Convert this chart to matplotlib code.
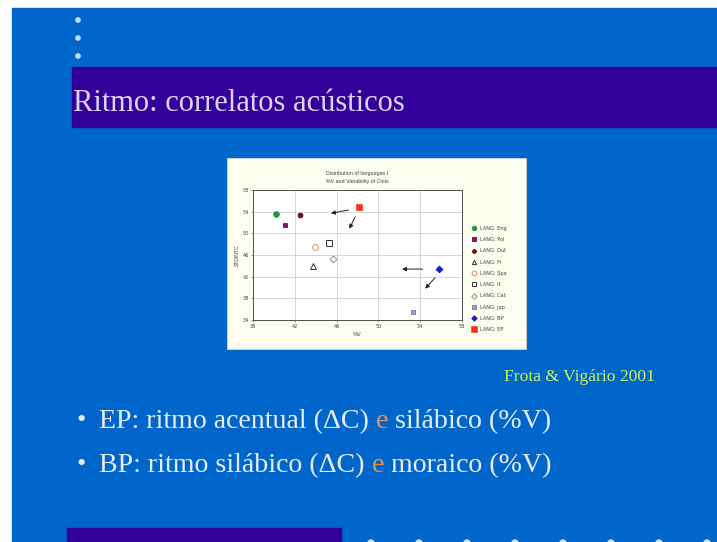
import matplotlib
matplotlib.use('Agg')
import matplotlib.pyplot as plt
from matplotlib.patches import Rectangle, Circle

W, H = 717, 542

# slide texts
slide_title = 'Ritmo: correlatos acústicos'
source_note = 'Frota & Vigário 2001'
bullet_lines = [
    ('EP: ritmo acentual (ΔC) ', 'e', ' silábico (%V)'),
    ('BP: ritmo silábico (ΔC) ', 'e', ' moraico (%V)'),
]

# chart data
chart_title = ['Distribution of languages I', '%V and Variability of Cints']
langs = ['Eng', 'Pol', 'Dut', 'Fr', 'Spa', 'It', 'Cat', 'Jap', 'BP', 'EP']
pct_v = [40.2, 41.1, 42.5, 43.7, 43.9, 45.3, 45.7, 53.3, 55.8, 48.1]
stdintc = [53.6, 51.6, 53.4, 44.0, 47.5, 48.3, 45.3, 35.5, 43.5, 54.8]
x_ticks = [38, 42, 46, 50, 54, 58]
y_ticks = [34, 38, 42, 46, 50, 54, 58]

# arrows drawn on the chart: (x0, y0) -> (x1, y1)
arrow_from = [(47.4, 54.4), (47.9, 53.5), (54.5, 43.4), (55.6, 42.2)]
arrow_to = [(45.2, 53.6), (47.1, 50.4), (52.0, 43.4), (54.3, 39.4)]

# marker, face, edge, size
styles = {
    'Eng': ('o', '#1a9a3a', '#1a9a3a', 4),
    'Pol': ('s', '#7a1a6a', '#7a1a6a', 3.2),
    'Dut': ('o', '#6a1020', '#6a1020', 3.4),
    'Fr': ('^', 'none', '#303030', 3.8),
    'Spa': ('o', 'none', '#e0906a', 4.2),
    'It': ('s', 'none', '#303030', 3.8),
    'Cat': ('D', 'none', '#909090', 3.4),
    'Jap': ('s', '#a0a0d0', '#8080b0', 3.2),
    'BP': ('D', '#1020c0', '#1020c0', 3.4),
    'EP': ('s', '#f03020', '#f06040', 4.6),
}

BLUE = '#0066cc'
PURPLE = '#330099'
SERIF = ['Liberation Serif', 'DejaVu Serif']
SANS = ['Liberation Sans', 'DejaVu Sans']

fig = plt.figure(figsize=(W / 100, H / 100), dpi=100)
fig.patch.set_facecolor('white')

bg = fig.add_axes([0, 0, 1, 1])
bg.set_xlim(0, W)
bg.set_ylim(H, 0)
bg.axis('off')

# slide background, title band, footer band
bg.add_patch(Rectangle((12, 8), W - 12, H - 8, color=BLUE, zorder=0))
bg.add_patch(Rectangle((72, 67), W - 72, 60, color=PURPLE, zorder=1))
bg.add_patch(Rectangle((67, 528), 274, 20, color=PURPLE, zorder=1))

for y in [20, 38, 56]:
    bg.add_patch(Circle((78, y), 2.1, color='#c8e0ff', zorder=2))
for x in range(371, 717, 48):
    bg.add_patch(Circle((x, 543), 3, color='#c8e0ff', zorder=2))

bg.text(73, 111, slide_title, fontsize=22, family=SERIF, color='#ddd4f2',
        va='baseline', ha='left', zorder=3)
bg.text(504, 381, source_note, fontsize=12.6, family=SERIF, color='#ccf060',
        va='baseline', ha='left', zorder=3)

# chart panel
bg.add_patch(Rectangle((227, 158), 299, 191, facecolor='#fdfdf0',
                       edgecolor='#d8d8c8', lw=0.6, zorder=1))

# bullets, with the orange "e"
fig.canvas.draw()
renderer = fig.canvas.get_renderer()
inv = bg.transData.inverted()
for i, parts in enumerate(bullet_lines):
    base = 428 + i * 44
    bg.text(81, base - 7, '•', fontsize=19, family=SERIF, color='#e8eef8',
            ha='center', va='center', zorder=3)
    x = 99
    for j, part in enumerate(parts):
        col = '#e89050' if j == 1 else '#e8eef8'
        t = bg.text(x, base, part, fontsize=20.1, family=SERIF, color=col,
                    va='baseline', ha='left', zorder=3)
        ext = t.get_window_extent(renderer)
        x = inv.transform((ext.x1, ext.y0))[0]

# the scatter chart
ax = fig.add_axes([253 / W, 1 - 320 / H, (462 - 253) / W, (320 - 190) / H])
ax.set_facecolor('white')
ax.set_xlim(38, 58)
ax.set_ylim(34, 58)
ax.set_xticks(x_ticks)
ax.set_yticks(y_ticks)
ax.grid(True, color='#c8c8c8', lw=0.5)
ax.set_axisbelow(True)
ax.tick_params(labelsize=3.6, colors='#404040', length=1.5, width=0.4, pad=1.5)
for s in ax.spines.values():
    s.set_color('#505050')
    s.set_linewidth(0.6)
    s.set_linestyle((0, (1, 0.6)))

for lang, xv, yv in zip(langs, pct_v, stdintc):
    m, fc, ec, ms = styles[lang]
    ax.plot(xv, yv, linestyle='none', marker=m, markerfacecolor=fc,
            markeredgecolor=ec, markersize=ms, markeredgewidth=0.7,
            label='LANG: ' + lang, zorder=3)

for (x0, y0), (x1, y1) in zip(arrow_from, arrow_to):
    ax.annotate('', xy=(x1, y1), xytext=(x0, y0),
                arrowprops=dict(arrowstyle='-|>', color='#202020', lw=0.7,
                                mutation_scale=6))

ax.set_xlabel('%V', fontsize=4, color='#404040', labelpad=2, family=SANS)
ax.set_ylabel('STDINTC', fontsize=3.6, color='#404040', labelpad=2,
              family=SANS)
ax.set_title(chart_title[0] + '\n' + chart_title[1], fontsize=3.8,
             color='#404040', pad=5, family=SANS, linespacing=1.8)

leg = ax.legend(loc='upper left', bbox_to_anchor=(1.035, 0.74), frameon=False,
                fontsize=3.6, handletextpad=0.8, labelspacing=1.25,
                borderaxespad=0, handlelength=1, markerscale=0.8)
for t in leg.get_texts():
    t.set_color('#404040')

fig.savefig('out.png', dpi=100)
